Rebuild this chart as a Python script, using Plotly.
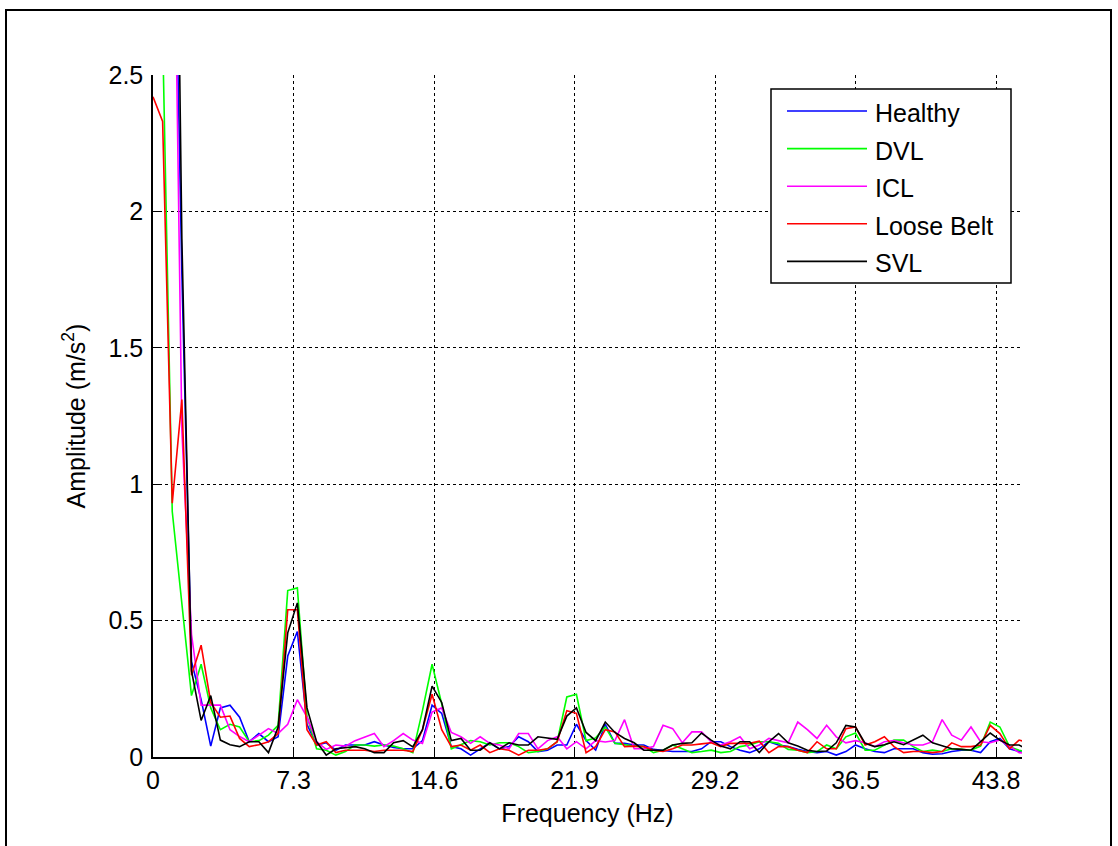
import plotly.graph_objects as go

# ---------------- data ----------------
FREQ_STEP = 0.5  # Hz, spectral resolution
N_BINS = 92
freq = [round(FREQ_STEP * k, 2) for k in range(N_BINS)]

healthy = [6.0, 5.0, 3.6, 1.77, 0.35, 0.21, 0.04, 0.18, 0.19, 0.146,
           0.056, 0.086, 0.056, 0.074, 0.37, 0.46, 0.12, 0.044, 0.052, 0.025,
           0.044, 0.044, 0.044, 0.056, 0.044, 0.035, 0.03, 0.03, 0.06, 0.19,
           0.16, 0.038, 0.03, 0.007, 0.03, 0.052, 0.03, 0.038, 0.074, 0.056,
           0.02, 0.025, 0.044, 0.044, 0.12, 0.06, 0.025, 0.12, 0.05, 0.05,
           0.044, 0.044, 0.028, 0.025, 0.02, 0.02, 0.02, 0.03, 0.056, 0.056,
           0.038, 0.025, 0.016, 0.03, 0.056, 0.044, 0.038, 0.028, 0.02, 0.016,
           0.02, 0.007, 0.02, 0.044, 0.03, 0.02, 0.016, 0.03, 0.03, 0.03,
           0.016, 0.01, 0.012, 0.02, 0.025, 0.025, 0.016, 0.056, 0.068, 0.03,
           0.02, 0.012]

dvl = [3.5, 2.65, 0.9, 0.56, 0.225, 0.34, 0.18, 0.1, 0.12, 0.11,
       0.056, 0.06, 0.08, 0.116, 0.61, 0.62, 0.15, 0.03, 0.025, 0.007,
       0.02, 0.044, 0.044, 0.04, 0.044, 0.04, 0.03, 0.016, 0.17, 0.34,
       0.195, 0.03, 0.044, 0.06, 0.056, 0.044, 0.052, 0.052, 0.038, 0.016,
       0.02, 0.03, 0.056, 0.22, 0.23, 0.06, 0.07, 0.11, 0.05, 0.044,
       0.04, 0.038, 0.016, 0.025, 0.044, 0.03, 0.016, 0.02, 0.025, 0.016,
       0.02, 0.038, 0.044, 0.056, 0.056, 0.05, 0.028, 0.025, 0.016, 0.02,
       0.044, 0.03, 0.074, 0.088, 0.025, 0.025, 0.044, 0.062, 0.062, 0.038,
       0.02, 0.025, 0.02, 0.03, 0.028, 0.025, 0.04, 0.128, 0.11, 0.038,
       0.025, 0.016]

icl = [8.0, 6.0, 3.65, 1.2, 0.45, 0.19, 0.19, 0.19, 0.10, 0.075,
       0.056, 0.08, 0.104, 0.086, 0.12, 0.21, 0.146, 0.056, 0.028, 0.044,
       0.04, 0.06, 0.074, 0.086, 0.038, 0.06, 0.086, 0.062, 0.05, 0.165,
       0.18, 0.09, 0.074, 0.05, 0.074, 0.05, 0.044, 0.03, 0.086, 0.086,
       0.03, 0.06, 0.074, 0.03, 0.056, 0.03, 0.06, 0.055, 0.06, 0.137,
       0.03, 0.03, 0.038, 0.116, 0.104, 0.052, 0.092, 0.092, 0.056, 0.044,
       0.056, 0.074, 0.03, 0.044, 0.068, 0.06, 0.052, 0.128, 0.1, 0.068,
       0.116, 0.074, 0.052, 0.06, 0.052, 0.038, 0.056, 0.06, 0.052, 0.044,
       0.044, 0.056, 0.137, 0.08, 0.062, 0.11, 0.056, 0.052, 0.062, 0.04,
       0.016, 0.013]

loose_belt = [2.42, 2.33, 0.93, 1.31, 0.30, 0.41, 0.2, 0.146, 0.15, 0.068,
              0.038, 0.045, 0.056, 0.086, 0.54, 0.54, 0.10, 0.044, 0.056, 0.016,
              0.025, 0.025, 0.025, 0.02, 0.025, 0.025, 0.025, 0.02, 0.10, 0.23,
              0.10, 0.038, 0.044, 0.025, 0.044, 0.016, 0.03, 0.025, 0.007, 0.025,
              0.025, 0.03, 0.056, 0.17, 0.16, 0.016, 0.038, 0.1, 0.092, 0.038,
              0.04, 0.038, 0.025, 0.02, 0.03, 0.044, 0.044, 0.048, 0.052, 0.038,
              0.05, 0.05, 0.05, 0.058, 0.016, 0.038, 0.038, 0.025, 0.016, 0.056,
              0.03, 0.03, 0.104, 0.11, 0.044, 0.056, 0.074, 0.038, 0.016, 0.02,
              0.02, 0.016, 0.02, 0.052, 0.038, 0.038, 0.044, 0.116, 0.086, 0.03,
              0.062, 0.052]

svl = [9.0, 7.0, 4.6, 1.9, 0.316, 0.134, 0.225, 0.062, 0.045, 0.038,
       0.056, 0.056, 0.016, 0.11, 0.455, 0.565, 0.18, 0.056, 0.007, 0.03,
       0.035, 0.038, 0.03, 0.016, 0.016, 0.052, 0.06, 0.037, 0.10, 0.26,
       0.2, 0.06, 0.068, 0.025, 0.025, 0.052, 0.03, 0.052, 0.044, 0.044,
       0.074, 0.07, 0.065, 0.15, 0.18, 0.09, 0.06, 0.128, 0.09, 0.068,
       0.052, 0.025, 0.025, 0.025, 0.044, 0.05, 0.052, 0.088, 0.062, 0.04,
       0.03, 0.056, 0.056, 0.016, 0.056, 0.086, 0.052, 0.04, 0.025, 0.02,
       0.022, 0.052, 0.116, 0.11, 0.05, 0.038, 0.045, 0.056, 0.045, 0.062,
       0.08, 0.052, 0.04, 0.03, 0.028, 0.025, 0.056, 0.088, 0.062, 0.044,
       0.044, 0.025]

series_names = ["Healthy", "DVL", "ICL", "Loose Belt", "SVL"]
series_values = [healthy, dvl, icl, loose_belt, svl]
series_colors = ["#0000FF", "#00FF00", "#FF00FF", "#FF0000", "#000000"]

x_tick_vals = [0, 7.3, 14.6, 21.9, 29.2, 36.5, 43.8]
x_tick_text = ["0", "7.3", "14.6", "21.9", "29.2", "36.5", "43.8"]
y_tick_vals = [0, 0.5, 1, 1.5, 2, 2.5]
y_tick_text = ["0", "0.5", "1", "1.5", "2", "2.5"]
X_RANGE = [0, 45.15]
Y_RANGE = [0, 2.5]

# ---------------- layout geometry (pixels) ----------------
W, H = 1118, 846
PL, PR, PT, PB = 153, 1022, 75, 757  # plot area edges


def px_x(px):
    return (px - PL) / (PR - PL)


def px_y(py):
    return (PB - py) / (PB - PT)


FONT = "Liberation Sans, Arial, Helvetica, sans-serif"
FS = 25

fig = go.Figure()
for name, vals, col in zip(series_names, series_values, series_colors):
    fig.add_trace(go.Scatter(x=freq, y=vals, mode="lines", name=name,
                             line=dict(color=col, width=1.6),
                             showlegend=False))

axis_common = dict(
    showline=True, linecolor="black", linewidth=1.5, mirror=False,
    ticks="inside", ticklen=8, tickwidth=1, tickcolor="black",
    showgrid=True, gridcolor="black", gridwidth=1, griddash="dot",
    zeroline=False, tickfont=dict(family=FONT, size=FS, color="black"),
)

fig.update_xaxes(range=X_RANGE, tickmode="array", tickvals=x_tick_vals,
                 ticktext=x_tick_text,
                 title=dict(text="Frequency (Hz)", standoff=12,
                            font=dict(family=FONT, size=FS, color="black")),
                 **axis_common)
fig.update_yaxes(range=Y_RANGE, tickmode="array", tickvals=y_tick_vals,
                 ticktext=y_tick_text, ticklabelstandoff=3,
                 title=dict(text="Amplitude (m/s<sup>2</sup>)", standoff=16,
                            font=dict(family=FONT, size=FS, color="black")),
                 **axis_common)

shapes = []
annotations = []

# outer figure frame
shapes.append(dict(type="rect", xref="paper", yref="paper",
                   x0=px_x(6), x1=px_x(1111), y0=px_y(852), y1=px_y(10),
                   line=dict(color="black", width=2), fillcolor="rgba(0,0,0,0)",
                   layer="above"))

# legend box (drawn by hand so that the sample lines match the long MATLAB ones)
LG_L, LG_R, LG_T, LG_B = 771, 1011, 89, 283
shapes.append(dict(type="rect", xref="paper", yref="paper",
                   x0=px_x(LG_L), x1=px_x(LG_R), y0=px_y(LG_B), y1=px_y(LG_T),
                   line=dict(color="black", width=1.5), fillcolor="white",
                   layer="above"))
ROW0, ROW_STEP = 111, 37.6
for k, (name, col) in enumerate(zip(series_names, series_colors)):
    ry = ROW0 + ROW_STEP * k
    shapes.append(dict(type="line", xref="paper", yref="paper",
                       x0=px_x(787), x1=px_x(867), y0=px_y(ry), y1=px_y(ry),
                       line=dict(color=col, width=1.6), layer="above"))
    annotations.append(dict(xref="paper", yref="paper", x=px_x(873), y=px_y(ry + 2),
                            xanchor="left", yanchor="middle", showarrow=False,
                            text=name, font=dict(family=FONT, size=FS, color="black")))

fig.update_layout(
    width=W, height=H,
    margin=dict(l=PL, r=W - PR, t=PT, b=H - PB, autoexpand=False),
    paper_bgcolor="white", plot_bgcolor="white",
    shapes=shapes, annotations=annotations,
    font=dict(family=FONT, size=FS, color="black"),
)

fig.write_html("out.html")
